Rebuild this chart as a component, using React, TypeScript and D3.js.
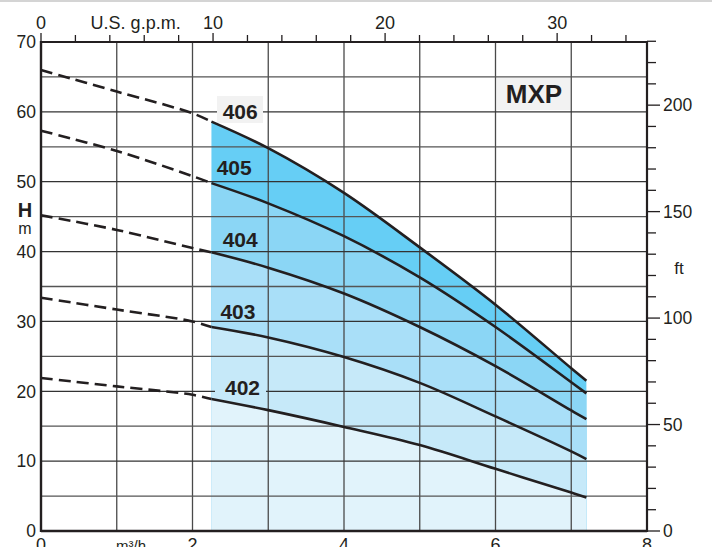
import React from "react";
import * as d3 from "d3";

// ---- Data ----
const models = ["406", "405", "404", "403", "402"];
const qSolid = [2.25, 3, 4, 5, 6, 7, 7.2];
const h406 = [58.6, 54.8, 48.4, 40.6, 32.4, 23.3, 21.5];
const h405 = [49.8, 46.9, 42.2, 36.3, 29.2, 21.3, 19.7];
const h404 = [39.9, 37.7, 34.0, 29.2, 23.6, 17.25, 16.0];
const h403 = [29.2, 27.7, 24.9, 21.2, 16.4, 11.4, 10.3];
const h402 = [18.9, 17.3, 14.9, 12.3, 8.9, 5.5, 4.8];
const qDash = [0, 1, 2, 2.25];
const d406 = [66.0, 62.9, 59.8, 58.6];
const d405 = [57.3, 54.4, 50.8, 49.8];
const d404 = [45.2, 43.1, 40.5, 39.9];
const d403 = [33.4, 31.7, 30.0, 29.2];
const d402 = [21.9, 20.7, 19.5, 18.9];
const xTicks = [0, 2, 4, 6, 8];
const yTicks = [0, 10, 20, 30, 40, 50, 60, 70];
const gpmLabels = [0, 10, 20, 30];
const ftLabels = [0, 50, 100, 150, 200];

const solidSeries = [h406, h405, h404, h403, h402];
const dashSeries = [d406, d405, d404, d403, d402];
const fills = ["#66CEF5", "#8BD6F5", "#A9DFF8", "#C6E9F9", "#E1F3FB"];
const labelPos: [number, number][] = [
  [2.63, 60],
  [2.55, 52.1],
  [2.63, 41.7],
  [2.6, 31.5],
  [2.66, 20.5],
];

const GPM = 0.2271247;
const FT = 0.3048;
const FONT = "'Liberation Sans', Arial, Helvetica, sans-serif";
const INK = "#231F20";

export default function App() {
  const x = d3.scaleLinear().domain([0, 8]).range([41, 647]);
  const y = d3.scaleLinear().domain([0, 70]).range([531, 42]);

  const line = d3
    .line<[number, number]>()
    .x((d) => x(d[0]))
    .y((d) => y(d[1]))
    .curve(d3.curveCatmullRom.alpha(0.5));
  const area = d3
    .area<[number, number]>()
    .x((d) => x(d[0]))
    .y0(y(0))
    .y1((d) => y(d[1]))
    .curve(d3.curveCatmullRom.alpha(0.5));

  const gridQ = d3.range(1, 8);
  const gridH = d3.range(5, 70, 5);
  const gpmTicks = d3.range(0, 35, 2);
  const ftTicks = d3.range(0, 240, 10);

  return (
    <svg
      width={712}
      height={547}
      style={{ position: "absolute", left: 0, top: 0, background: "#fff" }}
      fontFamily={FONT}
    >
      <rect x={0} y={0} width={712} height={2} fill="#d4d4d4" />
      {/* fills */}
      {solidSeries.map((s, i) => (
        <path
          key={"a" + i}
          d={area(qSolid.map((q, j) => [q, s[j]] as [number, number]))!}
          fill={fills[i]}
        />
      ))}
      {/* grid */}
      {gridQ.map((q) => (
        <line key={"gx" + q} x1={x(q)} x2={x(q)} y1={y(0)} y2={y(70)} stroke="#4a4a4a" strokeWidth={1.3} />
      ))}
      {gridH.map((h) => (
        <line key={"gy" + h} x1={x(0)} x2={x(8)} y1={y(h)} y2={y(h)} stroke={h % 10 === 0 ? "#333" : "#555"} strokeWidth={1.3} />
      ))}
      {/* label boxes */}
      <rect x={217} y={96} width={46} height={27} fill="#F2F2F2" />
      <rect x={215} y={376} width={51} height={22} fill={fills[3]} />
      <rect x={497} y={78} width={73} height={32} fill="#F2F2F2" />
      {/* curves */}
      {solidSeries.map((s, i) => (
        <path
          key={"l" + i}
          d={line(qSolid.map((q, j) => [q, s[j]] as [number, number]))!}
          fill="none"
          stroke={INK}
          strokeWidth={2.6}
        />
      ))}
      {dashSeries.map((s, i) => (
        <path
          key={"d" + i}
          d={line(qDash.map((q, j) => [q, s[j]] as [number, number]))!}
          fill="none"
          stroke={INK}
          strokeWidth={2.6}
          strokeDasharray="12,6"
        />
      ))}
      {/* curve labels */}
      {models.map((m, i) => (
        <text
          key={"t" + m}
          x={x(labelPos[i][0])}
          y={y(labelPos[i][1])}
          dy="0.36em"
          textAnchor="middle"
          fontWeight="bold"
          fontSize={21}
          fill={INK}
        >
          {m}
        </text>
      ))}
      <text x={534} y={94} dy="0.36em" textAnchor="middle" fontWeight="bold" fontSize={26} fill={INK}>
        MXP
      </text>
      {/* frame */}
      <line x1={x(0)} x2={x(8)} y1={y(70)} y2={y(70)} stroke={INK} strokeWidth={2.2} />
      <line x1={x(0)} x2={x(8)} y1={y(0)} y2={y(0)} stroke={INK} strokeWidth={2.4} />
      <line x1={x(0)} x2={x(0)} y1={y(70) - 1} y2={y(0) + 1} stroke={INK} strokeWidth={2.4} />
      <line x1={x(8)} x2={x(8)} y1={y(70) - 1} y2={y(0) + 1} stroke={INK} strokeWidth={2.2} />
      {/* top gpm axis */}
      {gpmTicks.map((g) => (
        <line
          key={"gt" + g}
          x1={x(g * GPM)}
          x2={x(g * GPM)}
          y1={y(70)}
          y2={y(70) - (g % 10 === 0 ? 9 : 7)}
          stroke={INK}
          strokeWidth={1.3}
        />
      ))}
      {gpmLabels.map((g) => (
        <text key={"gl" + g} x={x(g * GPM)} y={29} textAnchor="middle" fontSize={18} fill={INK}>
          {g}
        </text>
      ))}
      <text x={x(5.5 * GPM)} y={29} textAnchor="middle" fontSize={18} fill={INK}>
        U.S. g.p.m.
      </text>
      {/* right ft axis */}
      {ftTicks.map((f) => (
        <line
          key={"ft" + f}
          x1={x(8)}
          x2={x(8) + (f % 50 === 0 ? 13 : 9)}
          y1={y(f * FT)}
          y2={y(f * FT)}
          stroke={INK}
          strokeWidth={1.3}
        />
      ))}
      {ftLabels.map((f) => (
        <text key={"fl" + f} x={663} y={y(f * FT)} dy="0.36em" textAnchor="start" fontSize={17.5} fill={INK}>
          {f}
        </text>
      ))}
      <text x={679} y={268} dy="0.36em" textAnchor="middle" fontSize={17} fill={INK}>
        ft
      </text>
      {/* left axis */}
      {yTicks.map((h) => (
        <text key={"yl" + h} x={36} y={y(h)} dy="0.36em" textAnchor="end" fontSize={17.5} fill={INK}>
          {h}
        </text>
      ))}
      <text x={25} y={217} textAnchor="middle" fontWeight="bold" fontSize={20} fill={INK}>
        H
      </text>
      <text x={25} y={234} textAnchor="middle" fontSize={16} fill={INK}>
        m
      </text>
      {/* bottom axis */}
      {xTicks.map((q) => (
        <text key={"xl" + q} x={x(q)} y={551} textAnchor="middle" fontSize={18} fill={INK}>
          {q}
        </text>
      ))}
      <text x={131} y={551} textAnchor="middle" fontSize={15} fill={INK}>
        m³/h
      </text>
    </svg>
  );
}
